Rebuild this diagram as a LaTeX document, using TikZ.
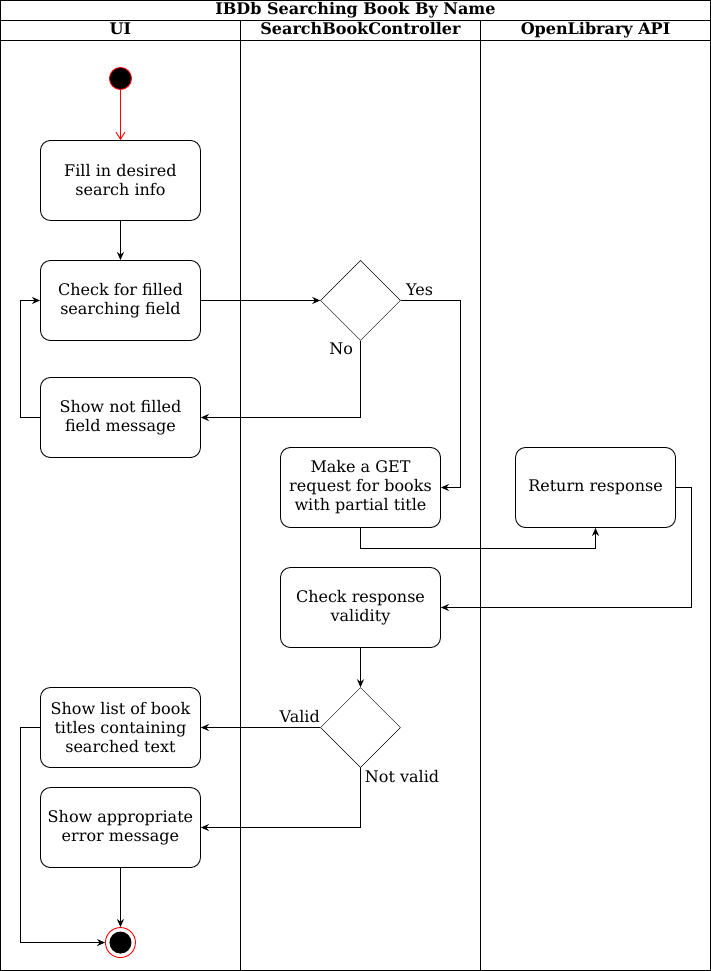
\documentclass[tikz,border=0pt]{standalone}
\usepackage{fontspec}
\setmainfont{DejaVu Serif}
\usetikzlibrary{positioning,shapes.geometric,arrows.meta}

\begin{document}
\begin{tikzpicture}[x=1pt,y=-1pt,line width=0.9pt,font=\fontsize{16}{19}\selectfont]
  \tikzset{ActionStyle/.style = {draw, rounded corners=10pt, minimum width=160pt, minimum height=80pt, align=center, inner sep=0pt}}
  \tikzset{DecisionStyle/.style = {draw, diamond, minimum size=80pt, inner sep=0pt, line width=0.5pt}}
  \tikzset{EdgeStyle/.style = {-{Stealth[length=8pt,width=7pt]}}}
  \tikzset{HeadStyle/.style = {font=\fontsize{16}{19}\selectfont\bfseries, text height=11pt, text depth=3pt, inner sep=0pt}}

  % swimlanes
  \draw (0,0) rectangle (710,970);
  \draw (0,20) -- (710,20) (0,40) -- (710,40);
  \draw (240,20) -- (240,970) (480,20) -- (480,970);
  \node[HeadStyle] (title) at (355,10) {IBDb Searching Book By Name};
  \node[HeadStyle] (laneui) at (120,30) {UI};
  \node[HeadStyle] (lanectrl) at (360,30) {SearchBookController};
  \node[HeadStyle] (laneapi) at (595,30) {OpenLibrary API};

  % activities
  \node[circle, fill=black, draw=red, minimum size=22pt, inner sep=0pt] (start) at (120,78) {};
  \node[ActionStyle] (fill) at (120,180) {Fill in desired\\search info};
  \node[ActionStyle] (check) at (120,300) {Check for filled\\searching field};
  \node[DecisionStyle] (filled) at (360,300) {};
  \node[ActionStyle] (notfilled) at (120,417) {Show not filled\\field message};
  \node[ActionStyle] (get) at (360,487) {Make a GET\\request for books\\with partial title};
  \node[ActionStyle] (resp) at (595,487) {Return response};
  \node[ActionStyle] (validity) at (360,607) {Check response\\validity};
  \node[DecisionStyle] (valid) at (360,727) {};
  \node[ActionStyle] (list) at (120,727) {Show list of book\\titles containing\\searched text};
  \node[ActionStyle] (error) at (120,827) {Show appropriate\\error message};
  \node[circle, draw=red, minimum size=30pt, inner sep=0pt] (end) at (120,942) {};
  \fill (end.center) circle (11pt);

  % flow
  \draw[red, -{Straight Barb[length=7pt,width=9pt]}] (start) -- (fill);
  \draw[EdgeStyle] (fill) -- (check);
  \draw[EdgeStyle] (check) -- (filled);
  \draw[EdgeStyle] (filled.east) -- ++(60,0) |- (get.east);
  \draw[EdgeStyle] (filled.south) |- (notfilled.east);
  \draw[EdgeStyle] (notfilled.west) -- ++(-20,0) |- (check.west);
  \draw[EdgeStyle] (get.south) -- ++(0,20) -| (resp.south);
  \draw[EdgeStyle] (resp.east) -- ++(15,0) |- (validity.east);
  \draw[EdgeStyle] (validity) -- (valid);
  \draw[EdgeStyle] (valid.west) -- (list.east);
  \draw[EdgeStyle] (valid.south) |- (error.east);
  \draw[EdgeStyle] (error) -- (end);
  \draw[EdgeStyle] (list.west) -- ++(-20,0) |- (end.west);

  % guards
  \node[anchor=south west, inner sep=2pt, xshift=3pt, yshift=2pt] (yes) at (filled.east) {Yes};
  \node[anchor=north east, inner sep=2pt, xshift=-5pt] (no) at (filled.south) {No};
  \node[anchor=south east, inner sep=1pt, xshift=1pt, yshift=3pt] (isvalid) at (valid.west) {Valid};
  \node[anchor=north west, inner sep=2pt, xshift=2pt] (notvalid) at (valid.south) {Not valid};
\end{tikzpicture}
\end{document}
